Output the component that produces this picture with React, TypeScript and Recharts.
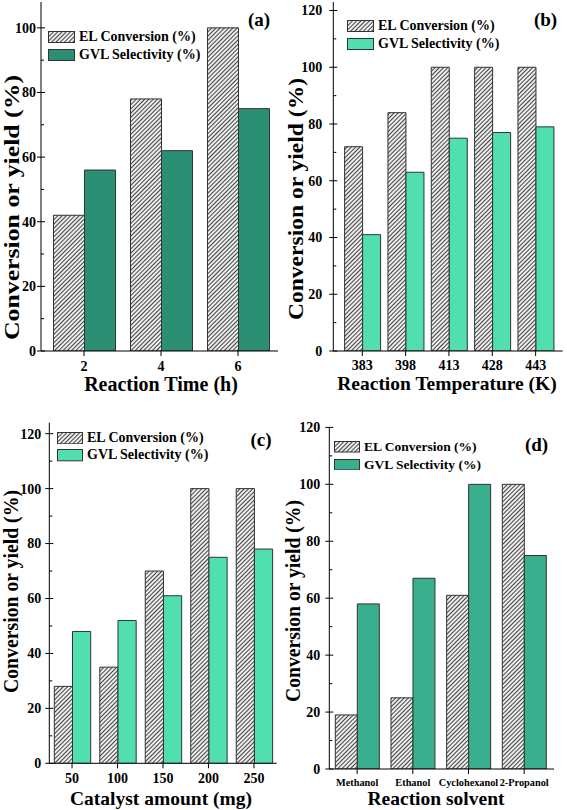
import React from 'react';
import { BarChart, Bar, XAxis, YAxis, Legend } from 'recharts';

const FONT = '"Liberation Serif", "Times New Roman", serif';

const seriesNames = ['EL Conversion (%)', 'GVL Selectivity (%)'];
const yAxisTitle = 'Conversion or yield (%)';

const timeCategories = ['2', '4', '6'];
const timeConversion = [42, 78, 100];
const timeSelectivity = [56, 62, 75];

const tempCategories = ['383', '398', '413', '428', '443'];
const tempConversion = [72, 84, 100, 100, 100];
const tempSelectivity = [41, 63, 75, 77, 79];

const catalystCategories = ['50', '100', '150', '200', '250'];
const catalystConversion = [28, 35, 70, 100, 100];
const catalystSelectivity = [48, 52, 61, 75, 78];

const solventCategories = ['Methanol', 'Ethanol', 'Cyclohexanol', '2-Propanol'];
const solventConversion = [19, 25, 61, 100];
const solventSelectivity = [58, 67, 100, 75];

const yTicksTo100 = [0, 10, 20, 30, 40, 50, 60, 70, 80, 90, 100];
const yTicksTo120 = [0, 10, 20, 30, 40, 50, 60, 70, 80, 90, 100, 110, 120];

const makeRows = (cats: string[], el: number[], gvl: number[]) =>
  cats.map((c, i) => ({ cat: c, el: el[i], gvl: gvl[i] }));

const panels = [
  {
    id: 'a', rows: makeRows(timeCategories, timeConversion, timeSelectivity),
    box: { left: 0, top: 0, w: 283, h: 400 }, plot: { x0: 41, x1: 278, y0: 2, y1: 351 },
    max: 108, ticks: yTicksTo100, xPad: { left: 4.5, right: 1.5 }, barSize: 31, color: '#2a8f73',
    yTickGap: 5, xTickBase: 19.5, xTickFont: 14,
    legend: { x: 48, y: 31, sw: 27, sh: 12, pitch: 18, gap: 4, font: 14 },
    tag: { text: '(a)', x: 259, y: 26 },
    yTitle: { x: 11.5, y: 207.5, len: 265, font: 21 },
    xTitle: { text: 'Reaction Time (h)', x: 161, y: 391, font: 20 },
  },
  {
    id: 'b', rows: makeRows(tempCategories, tempConversion, tempSelectivity),
    box: { left: 280, top: 0, w: 287, h: 400 }, plot: { x0: 333.3, x1: 562.7, y0: 2, y1: 351 },
    max: 123, ticks: yTicksTo120, xPad: { left: 7.3, right: 5.4 }, barSize: 18, color: '#52dfb0',
    yTickGap: 11, xTickBase: 19, xTickFont: 14,
    legend: { x: 347, y: 20, sw: 27, sh: 12, pitch: 17.7, gap: 4, font: 14 },
    tag: { text: '(b)', x: 545.5, y: 26 },
    yTitle: { x: 296, y: 199, len: 242, font: 21 },
    xTitle: { text: 'Reaction Temperature (K)', x: 447, y: 390, font: 19.5 },
  },
  {
    id: 'c', rows: makeRows(catalystCategories, catalystConversion, catalystSelectivity),
    box: { left: 0, top: 400, w: 283, h: 410 }, plot: { x0: 49.3, x1: 276.7, y0: 422.7, y1: 763.3 },
    max: 124, ticks: yTicksTo120, xPad: { left: 0, right: 0 }, barSize: 18.2, color: '#52dfb0',
    yTickGap: 8, xTickBase: 20, xTickFont: 14,
    legend: { x: 57, y: 432, sw: 26, sh: 12.3, pitch: 17.3, gap: 4, font: 14 },
    tag: { text: '(c)', x: 261, y: 446 },
    yTitle: { x: 11, y: 591.5, len: 203, font: 20 },
    xTitle: { text: 'Catalyst amount (mg)', x: 161, y: 804.5, font: 19.5 },
  },
  {
    id: 'd', rows: makeRows(solventCategories, solventConversion, solventSelectivity),
    box: { left: 280, top: 400, w: 287, h: 410 }, plot: { x0: 329.3, x1: 554, y0: 427.4, y1: 769 },
    max: 120, ticks: yTicksTo120, xPad: { left: 0, right: 2 }, barSize: 22, color: '#3aaf8d',
    yTickGap: 9, xTickBase: 17, xTickFont: 10.3,
    legend: { x: 334, y: 441, sw: 26, sh: 11.5, pitch: 17.7, gap: 4, font: 13.5 },
    tag: { text: '(d)', x: 536.5, y: 451 },
    yTitle: { x: 292.5, y: 601, len: 202, font: 20 },
    xTitle: { text: 'Reaction solvent', x: 436, y: 804.5, font: 19.5 },
  },
];

const HatchPattern = ({ id }: { id: string }) => (
  <pattern id={id} patternUnits="userSpaceOnUse" width="3" height="3" patternTransform="rotate(45)">
    <rect width="3" height="3" fill="#ffffff" />
    <line x1="1.5" y1="0" x2="1.5" y2="3" stroke="#444444" strokeWidth="1.2" />
  </pattern>
);

function Panel({ p }: { p: any }) {
  const ox = p.box.left;
  const oy = p.box.top;
  const margin = { top: p.plot.y0 - oy, right: p.box.w - (p.plot.x1 - ox), left: 0, bottom: 0 };
  const yAxisWidth = p.plot.x0 - ox;
  const xAxisHeight = p.box.h - (p.plot.y1 - oy);
  const hatchId = `hatch-${p.id}`;

  const yTick = (props: any) => {
    const { x, y, payload } = props;
    const v = payload.value;
    const major = v % 20 === 0;
    return (
      <g>
        <line x1={major ? x - 4 : x} x2={x + (major ? 4 : 3)} y1={y} y2={y} stroke="#000" strokeWidth={1} />
        {major && (
          <text x={x - p.yTickGap} y={y} dy="0.35em" textAnchor="end" fontFamily={FONT} fontWeight="bold" fontSize={14} fill="#000">
            {v}
          </text>
        )}
      </g>
    );
  };

  const xTick = (props: any) => {
    const { x, y, payload } = props;
    return (
      <g>
        <line x1={x} x2={x} y1={y} y2={y + 5} stroke="#000" strokeWidth={1} />
        <text x={x} y={y + p.xTickBase} textAnchor="middle" fontFamily={FONT} fontWeight="bold" fontSize={p.xTickFont} fill="#000">
          {payload.value}
        </text>
      </g>
    );
  };

  const lg = p.legend;
  const legendContent = () => (
    <div style={{ position: 'relative', fontFamily: FONT, fontWeight: 'bold', fontSize: lg.font, color: '#000' }}>
      {seriesNames.map((name, i) => (
        <div key={name} style={{ display: 'flex', alignItems: 'center', height: lg.sh, marginTop: i === 0 ? 0 : lg.pitch - lg.sh, whiteSpace: 'nowrap', lineHeight: 1 }}>
          <svg width={lg.sw} height={lg.sh} style={{ display: 'block' }}>
            <defs>
              <HatchPattern id={`${hatchId}-lg`} />
            </defs>
            <rect x={0.5} y={0.5} width={lg.sw - 1} height={lg.sh - 1} fill={i === 0 ? `url(#${hatchId}-lg)` : p.color} stroke="#333" strokeWidth={1} />
          </svg>
          <span style={{ marginLeft: lg.gap }}>{name}</span>
        </div>
      ))}
    </div>
  );

  const yt = p.yTitle;
  const xt = p.xTitle;

  return (
    <div style={{ position: 'absolute', left: ox, top: oy, width: p.box.w, height: p.box.h }}>
      <BarChart width={p.box.w} height={p.box.h} data={p.rows} margin={margin} barGap={0} barCategoryGap={0}>
        <defs>
          <HatchPattern id={hatchId} />
        </defs>
        <XAxis
          xAxisId="b" dataKey="cat" height={xAxisHeight} interval={0} tickSize={0} tickMargin={0}
          tickLine={false} axisLine={{ stroke: '#000', strokeWidth: 1 }} tick={xTick} padding={p.xPad}
        />
        <XAxis
          xAxisId="t" dataKey="cat" orientation="top" height={0} tick={false} tickLine={false}
          axisLine={{ stroke: '#000', strokeWidth: 1 }} padding={p.xPad}
        />
        <YAxis
          yAxisId="l" type="number" width={yAxisWidth} domain={[0, p.max]} ticks={p.ticks} allowDataOverflow
          interval={0} tickSize={0} tickMargin={0} tickLine={false} axisLine={{ stroke: '#000', strokeWidth: 1 }} tick={yTick}
        />
        <YAxis
          yAxisId="r" orientation="right" type="number" width={0} domain={[0, p.max]} allowDataOverflow
          tick={false} tickLine={false} axisLine={{ stroke: '#000', strokeWidth: 1 }}
        />
        <Bar xAxisId="b" yAxisId="l" dataKey="el" name={seriesNames[0]} barSize={p.barSize} fill={`url(#${hatchId})`} stroke="#333" strokeWidth={1} isAnimationActive={false} />
        <Bar xAxisId="b" yAxisId="l" dataKey="gvl" name={seriesNames[1]} barSize={p.barSize} fill={p.color} stroke="#333" strokeWidth={1} isAnimationActive={false} />
        <Legend
          layout="vertical" align="center" verticalAlign="middle" content={legendContent}
          wrapperStyle={{ left: lg.x - ox, top: lg.y - oy, width: 'auto', height: 'auto', margin: 0, padding: 0 }}
        />
        <text x={p.tag.x - ox} y={p.tag.y - oy} textAnchor="middle" fontFamily={FONT} fontWeight="bold" fontSize={19} fill="#000">
          {p.tag.text}
        </text>
        <text
          x={yt.x - ox} y={yt.y - oy} transform={`rotate(-90 ${yt.x - ox} ${yt.y - oy})`}
          textAnchor="middle" dominantBaseline="central" fontFamily={FONT} fontWeight="bold" fontSize={yt.font}
          textLength={yt.len} lengthAdjust="spacingAndGlyphs" fill="#000"
        >
          {yAxisTitle}
        </text>
        <text x={xt.x - ox} y={xt.y - oy} textAnchor="middle" fontFamily={FONT} fontWeight="bold" fontSize={xt.font} fill="#000">
          {xt.text}
        </text>
      </BarChart>
    </div>
  );
}

export default function App() {
  return (
    <div style={{ position: 'absolute', left: 0, top: 0, width: 567, height: 810, background: '#ffffff', overflow: 'hidden' }}>
      {panels.map((p) => (
        <Panel key={p.id} p={p} />
      ))}
    </div>
  );
}
